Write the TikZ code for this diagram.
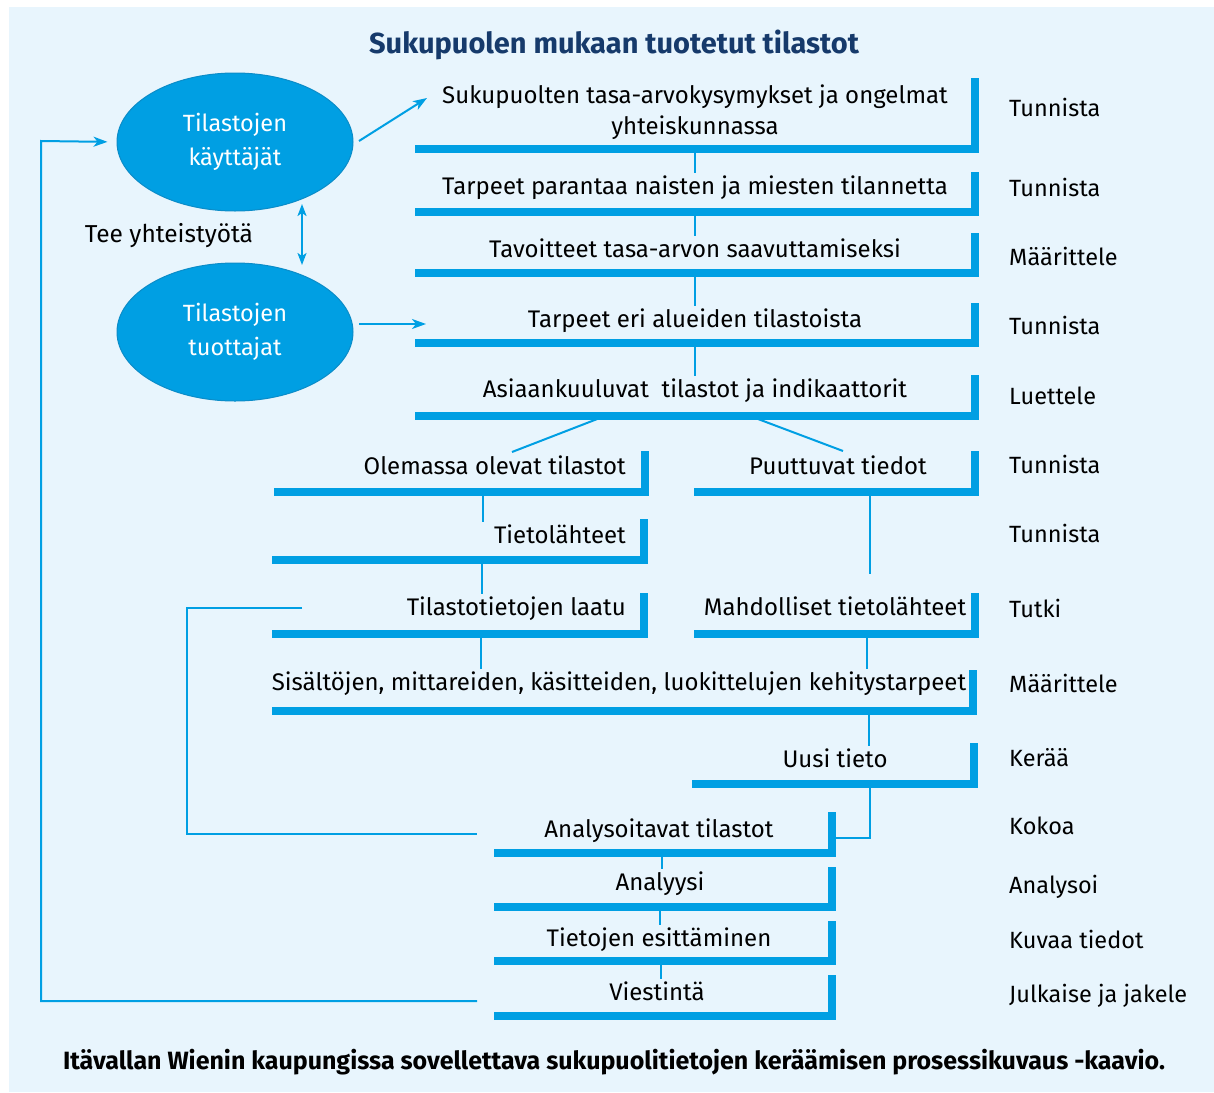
\documentclass[tikz,border=0pt]{standalone}
\usepackage{fontspec}
\setmainfont{Fira Sans}
\usetikzlibrary{shapes.geometric,arrows.meta}
\definecolor{barblue}{HTML}{009FE3}
\definecolor{ellblue}{HTML}{009FE3}
\definecolor{elledge}{HTML}{0B8CC8}
\definecolor{bgblue}{HTML}{E8F5FD}
\definecolor{navy}{HTML}{163A6B}
\tikzset{
  bar/.style={draw=barblue, line width=8pt},
  link/.style={draw=barblue, line width=2pt},
  arrowlink/.style={link, -{Stealth[length=14pt,width=10pt,inset=4pt]}},
  steptext/.style={font=\fontsize{24}{31}\selectfont, inner sep=4pt, text height=17pt, text depth=5pt, anchor=base},
  verb/.style={font=\fontsize{23.5}{31}\selectfont, inner sep=0pt, anchor=base west},
  actor/.style={ellipse, fill=ellblue, draw=elledge, line width=1pt, minimum width=236pt, minimum height=138pt, text=white, align=center, font=\fontsize{23.5}{34}\selectfont},
}
\begin{document}
\begin{tikzpicture}[x=1pt, y=-1pt]
    \useasboundingbox (0,0) rectangle (1214,1092);
    \fill[bgblue] (9,7) rectangle (1214,1092);

    % title and caption
    \node[font=\bfseries\fontsize{29}{34}\selectfont, text=navy] (title) at (614,45) {Sukupuolen mukaan tuotetut tilastot};
    \node[font=\bfseries\fontsize{25}{30}\selectfont] (caption) at (614,1062) {Itävallan Wienin kaupungissa sovellettava sukupuolitietojen keräämisen prosessikuvaus -kaavio.};

    % actors
    \node[actor] (users) at (235,142) {Tilastojen\\käyttäjät};
    \node[actor] (producers) at (235,332) {Tilastojen\\tuottajat};
    \node[verb, font=\fontsize{24.5}{31}\selectfont, anchor=base] (coop) at (169,242) {Tee yhteistyötä};

    % step texts
    \node[font=\fontsize{24}{31}\selectfont, align=center] (t1) at (695,112) {Sukupuolten tasa-arvokysymykset ja ongelmat\\yhteiskunnassa};
    \node[steptext] (t2) at (695,194) {Tarpeet parantaa naisten ja miesten tilannetta};
    \node[steptext] (t3) at (695,257) {Tavoitteet tasa-arvon saavuttamiseksi};
    \node[steptext] (t4) at (695,327) {Tarpeet eri alueiden tilastoista};
    \node[steptext] (t5) at (695,397) {Asiaankuuluvat\ \ tilastot ja indikaattorit};
    \node[steptext, anchor=base east] (t6a) at (630,474) {Olemassa olevat tilastot};
    \node[steptext] (t6b) at (838,474) {Puuttuvat tiedot};
    \node[steptext, anchor=base east] (t7a) at (630,543) {Tietolähteet};
    \node[steptext, anchor=base east] (t8a) at (630,615) {Tilastotietojen laatu};
    \node[steptext] (t8b) at (835,615) {Mahdolliset tietolähteet};
    \node[steptext] (t9) at (619,690) {Sisältöjen, mittareiden, käsitteiden, luokittelujen kehitystarpeet};
    \node[steptext] (t10) at (835,767) {Uusi tieto};
    \node[steptext] (t11) at (659,837) {Analysoitavat tilastot};
    \node[steptext] (t12) at (660,890) {Analyysi};
    \node[steptext] (t13) at (659,946) {Tietojen esittäminen};
    \node[steptext] (t14) at (657,1000) {Viestintä};

    % verbs on the right
    \node[verb] (v1) at (1009,116) {Tunnista};
    \node[verb] (v2) at (1009,196) {Tunnista};
    \node[verb] (v3) at (1009,265) {Määrittele};
    \node[verb] (v4) at (1009,334) {Tunnista};
    \node[verb] (v5) at (1009,404) {Luettele};
    \node[verb] (v6) at (1009,473) {Tunnista};
    \node[verb] (v7) at (1009,542) {Tunnista};
    \node[verb] (v8) at (1009,617) {Tutki};
    \node[verb] (v9) at (1009,692) {Määrittele};
    \node[verb] (v10) at (1009,766) {Kerää};
    \node[verb] (v11) at (1009,834) {Kokoa};
    \node[verb] (v12) at (1009,893) {Analysoi};
    \node[verb] (v13) at (1009,948) {Kuvaa tiedot};
    \node[verb] (v14) at (1009,1002) {Julkaise ja jakele};

    % bar corners
    \coordinate (b1) at (975,149);
    \coordinate (b2) at (975,212);
    \coordinate (b3) at (975,273);
    \coordinate (b4) at (975,343);
    \coordinate (b5) at (975,416);
    \coordinate (b6a) at (645,492);
    \coordinate (b6b) at (975,492);
    \coordinate (b7a) at (644,560);
    \coordinate (b8a) at (644,634);
    \coordinate (b8b) at (975,634);
    \coordinate (b9) at (973,711);
    \coordinate (b10) at (974,784);
    \coordinate (b11) at (832,853);
    \coordinate (b12) at (832,907);
    \coordinate (b13) at (832,961);
    \coordinate (b14) at (832,1016);

    % free ends
    \coordinate (d1) at (512,452);
    \coordinate (d2) at (843,451);
    \coordinate (m8b) at (870,574);
    \coordinate (lq1) at (302,608);
    \coordinate (lq2) at (477,834);
    \coordinate (lp1) at (477,1001);
    \coordinate (u1) at (359,141);
    \coordinate (u2) at (427,98);
    \coordinate (p1) at (359,324);
    \coordinate (p2) at (426,324);
    \coordinate (c1) at (302,204);
    \coordinate (c2) at (302,265);

    % thin connectors
    \draw[link] (t2.north) -- (t2.north |- b1);
    \draw[link] (t3.north) -- (t3.north |- b2);
    \draw[link] (t4.north) -- (t4.north |- b3);
    \draw[link] (t5.north) -- (t5.north |- b4);
    \draw[link] (b5 -| 605,0) -- (d1);
    \draw[link] (b5 -| 750,0) -- (d2);
    \draw[link] (b6a -| 483,0) -- (t7a.north -| 483,0);
    \draw[link] (b7a -| 482,0) -- (t8a.north -| 482,0);
    \draw[link] (b6b -| 870,0) -- (m8b);
    \draw[link] (b8a -| 481,0) -- (t9.north -| 481,0);
    \draw[link] (b8b -| 867,0) -- (t9.north -| 867,0);
    \draw[link] (b9 -| 869,0) -- (t10.north -| 869,0);
    \draw[link] (b10 -| 870,0) |- (b11 |- 0,838);
    \draw[link] (b11 -| 662,0) -- (t12.north -| 662,0);
    \draw[link] (b12 -| 660,0) -- (t13.north -| 660,0);
    \draw[link] (b13 -| 661,0) -- (t14.north -| 661,0);

    % feedback loops
    \draw[link] (lq1) -| (187,834) -- (lq2);
    \draw[arrowlink, shorten >=9pt] (lp1) -| (41,141) -- (users.west);
    \draw[arrowlink] (u1) -- (u2);
    \draw[arrowlink] (p1) -- (p2);
    \draw[link, {Stealth[length=12pt,width=9pt,inset=3pt]}-{Stealth[length=12pt,width=9pt,inset=3pt]}] (c1) -- (c2);

    % step brackets
    \draw[bar] (415,149) -| (975,78);
    \draw[bar] (415,212) -| (975,172);
    \draw[bar] (415,273) -| (975,233);
    \draw[bar] (415,343) -| (975,303);
    \draw[bar] (415,416) -| (975,375);
    \draw[bar] (274,492) -| (645,451);
    \draw[bar] (694,492) -| (975,451);
    \draw[bar] (272,560) -| (644,519);
    \draw[bar] (272,634) -| (644,593);
    \draw[bar] (694,634) -| (975,593);
    \draw[bar] (272,711) -| (973,670);
    \draw[bar] (692,784) -| (974,743);
    \draw[bar] (494,853) -| (832,812);
    \draw[bar] (494,907) -| (832,867);
    \draw[bar] (494,961) -| (832,921);
    \draw[bar] (494,1016) -| (832,975);
\end{tikzpicture}
\end{document}
